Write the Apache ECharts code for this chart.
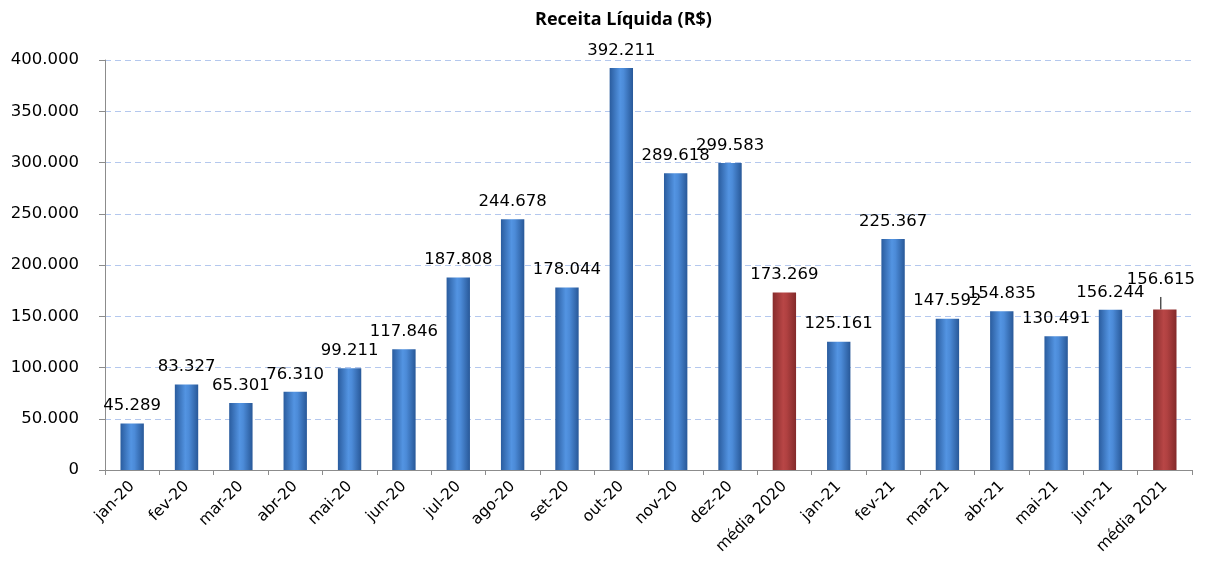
<!DOCTYPE html>
<html>
<head>
<meta charset="utf-8">
<script src="https://cdn.jsdelivr.net/npm/echarts@6/dist/echarts.min.js"></script>
<style>
  html, body { margin: 0; padding: 0; background: #fff; }
  #chart { width: 1214px; height: 565px; }
</style>
</head>
<body>
<div id="chart"></div>
<script>
const categories = ["jan-20", "fev-20", "mar-20", "abr-20", "mai-20", "jun-20", "jul-20", "ago-20", "set-20", "out-20",
    "nov-20", "dez-20", "média 2020", "jan-21", "fev-21", "mar-21", "abr-21", "mai-21", "jun-21", "média 2021"];
const values = [45289, 83327, 65301, 76310, 99211, 117846, 187808, 244678, 178044, 392211,
    289618, 299583, 173269, 125161, 225367, 147592, 154835, 130491, 156244, 156615];
const averageCats = ["média 2020", "média 2021"];

const fmt = (v) => String(Math.round(v)).replace(/\B(?=(\d{3})+(?!\d))/g, ".");

const blue = {
    type: "linear", x: 0, y: 0, x2: 1, y2: 0,
    colorStops: [
        {offset: 0, color: "#2a5c9e"},
        {offset: 0.45, color: "#5394e2"},
        {offset: 0.6, color: "#4c8bd8"},
        {offset: 1, color: "#285898"},
    ],
};
const red = {
    type: "linear", x: 0, y: 0, x2: 1, y2: 0,
    colorStops: [
        {offset: 0, color: "#872c2c"},
        {offset: 0.45, color: "#b84646"},
        {offset: 0.6, color: "#b04141"},
        {offset: 1, color: "#832a2a"},
    ],
};

const chart = echarts.init(document.getElementById("chart"));

const data = values.map((v, i) => {
    const isAvg = averageCats.includes(categories[i]);
    const item = {
        value: v,
        itemStyle: {color: isAvg ? red : blue},
    };
    if (categories[i] === "média 2021") {
        item.label = {offset: [-4, -12]};
        item.labelLine = {show: true};
    }
    return item;
});

chart.setOption({
    title: {
        text: "Receita Líquida (R$)",
        left: 530,
        top: 6,
        textStyle: {fontFamily: "Open Sans", fontSize: 18, fontWeight: "bold", color: "#000"},
    },
    grid: {left: 105, right: 22, top: 60, bottom: 95},
    xAxis: {
        type: "category",
        data: categories,
        axisLine: {lineStyle: {color: "#8c8c8c"}},
        axisTick: {show: true, alignWithLabel: false, length: 5, lineStyle: {color: "#8c8c8c"}},
        axisLabel: {
            rotate: 45,
            interval: 0,
            fontFamily: "DejaVu Sans",
            fontSize: 15.5,
            color: "#000",
            margin: 14,
        },
    },
    yAxis: {
        type: "value",
        min: 0,
        max: 400000,
        interval: 50000,
        axisLine: {show: true, lineStyle: {color: "#8c8c8c"}},
        axisTick: {show: true, length: 6, lineStyle: {color: "#8c8c8c"}},
        axisLabel: {
            formatter: (v) => fmt(v),
            fontFamily: "DejaVu Sans",
            fontSize: 16.5,
            color: "#000",
            margin: 26,
        },
        splitLine: {lineStyle: {color: "#b4c8ee", type: [6, 4], width: 1}},
    },
    series: [{
        type: "bar",
        data: data,
        barWidth: "43%",
        label: {
            show: true,
            position: "top",
            distance: 9,
            formatter: (p) => fmt(p.value),
            fontFamily: "DejaVu Sans",
            fontSize: 16.5,
            color: "#000",
        },
        labelLine: {lineStyle: {color: "#000", width: 1}},
    }],
    animation: false,
});
</script>
</body>
</html>
